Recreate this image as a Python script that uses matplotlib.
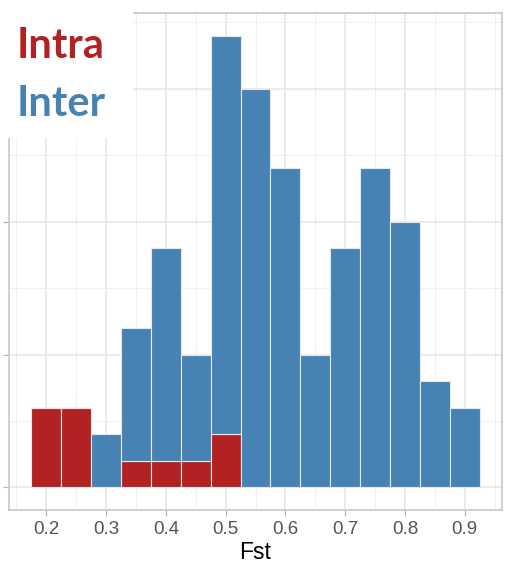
import numpy as np
import matplotlib.pyplot as plt
from matplotlib.patches import Rectangle
from matplotlib.ticker import MultipleLocator

# Fst histogram, bin width 0.05, stacked by comparison type
bin_centers = [0.20, 0.25, 0.30, 0.35, 0.40, 0.45, 0.50, 0.55,
               0.60, 0.65, 0.70, 0.75, 0.80, 0.85, 0.90]
intra_counts = [3, 3, 0, 1, 1, 1, 2, 0, 0, 0, 0, 0, 0, 0, 0]
inter_counts = [0, 0, 2, 5, 8, 4, 15, 15, 12, 5, 9, 12, 10, 4, 3]
x_ticks = [0.2, 0.3, 0.4, 0.5, 0.6, 0.7, 0.8, 0.9]

red = '#B22222'
blue = '#4682B4'

plt.rcParams['font.family'] = ['Liberation Sans', 'DejaVu Sans']

W, H = 513, 571
fig = plt.figure(figsize=(W / 100, H / 100), dpi=100)
ax = fig.add_axes([9 / W, 1 - 510 / H, (502 - 9) / W, (510 - 13) / H])

x = np.array(bin_centers)
intra = np.array(intra_counts)
inter = np.array(inter_counts)
ax.bar(x, intra, width=0.05, color=red, edgecolor='#E8E8E8', linewidth=0.8, zorder=3)
ax.bar(x, inter, width=0.05, bottom=intra, color=blue, edgecolor='#E8E8E8',
       linewidth=0.8, zorder=3)

ax.set_xlim(0.1375, 0.9625)
ax.set_ylim(-0.85, 17.85)
ax.set_xticks(x_ticks)
ax.set_xticklabels([f'{t:.1f}' for t in x_ticks])
ax.xaxis.set_minor_locator(MultipleLocator(0.05))
ax.yaxis.set_major_locator(MultipleLocator(5))
ax.yaxis.set_minor_locator(MultipleLocator(2.5))
ax.set_yticklabels([])

ax.grid(which='major', color='#E6E6E6', linewidth=1.1, zorder=0)
ax.grid(which='minor', color='#F0F0F0', linewidth=0.7, zorder=0)
ax.tick_params(which='major', axis='x', length=4, color='#B3B3B3',
               labelsize=13.5, labelcolor='#555555', pad=4)
ax.tick_params(which='major', axis='y', length=4.5, color='#B3B3B3')
ax.tick_params(which='minor', length=0)
for s in ax.spines.values():
    s.set_color('#C8C8C8')
    s.set_linewidth(1.2)

ax.set_xlabel('Fst', fontsize=16.5, color='black', labelpad=2)

# legend box painted over the panel corner
fig.add_artist(Rectangle((0, 1 - 138 / H), 133 / W, 138 / H, transform=fig.transFigure,
                         facecolor='white', edgecolor='none', zorder=10))
fig.text(17 / W, 1 - 58 / H, 'Intra', color=red, fontsize=30, fontweight='bold',
         family='Lato', zorder=11)
fig.text(17 / W, 1 - 116 / H, 'Inter', color=blue, fontsize=30, fontweight='bold',
         family='Lato', zorder=11)

fig.savefig('out.png', dpi=100)
